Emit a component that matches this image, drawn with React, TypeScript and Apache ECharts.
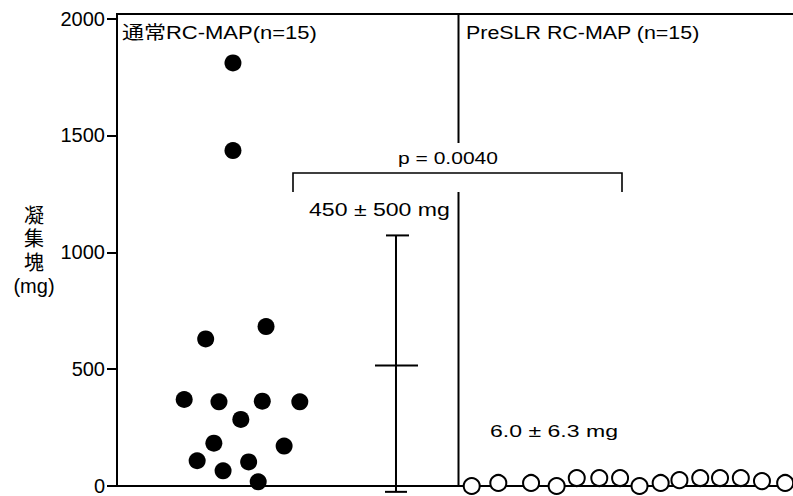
import React, { useEffect, useRef } from "react";
import * as echarts from "echarts";

// ---- data ----
const yTicks = [0, 500, 1000, 1500, 2000];
const groupLabels = ["通常RC-MAP(n=15)", "PreSLR RC-MAP (n=15)"];
// conventional RC-MAP: x jitter position (panel units), aggregate mass (mg)
const convX = [0.34, 0.34, 0.26, 0.437, 0.197, 0.299, 0.426, 0.536, 0.363, 0.284, 0.49, 0.235, 0.311, 0.386, 0.414];
const convY = [1810, 1435, 629, 682, 370, 360, 363, 360, 285, 183, 171, 108, 65, 103, 18];
// PreSLR RC-MAP
const preX = [1.04, 1.118, 1.214, 1.289, 1.348, 1.414, 1.475, 1.532, 1.594, 1.649, 1.71, 1.768, 1.829, 1.891, 1.959];
const preY = [0, 13, 13, 0, 34, 34, 34, 0, 13, 25, 34, 34, 34, 21, 13];
// mean / SD bar for conventional group
const errX = [0.818];
const errMean = [516];
const errLow = [-25];
const errHigh = [1072];
const pText = "p = 0.0040";
const convStat = "450 ± 500 mg";
const preStat = "6.0 ± 6.3 mg";
const yName = "凝\n集\n塊\n(mg)";

const FONT = '"Liberation Sans", "Noto Sans CJK JP", sans-serif';

function measure(text: string, size: number): number {
  const c = document.createElement("canvas").getContext("2d");
  if (!c) return text.length * size * 0.55;
  c.font = `${size}px ${FONT}`;
  return c.measureText(text).width;
}

function fitText(text: string, x: number, y: number, size: number, width: number, align: string) {
  const w = measure(text, size);
  return {
    type: "text",
    x,
    y,
    scaleX: w > 0 ? width / w : 1,
    style: {
      text,
      fontSize: size,
      fontFamily: FONT,
      fill: "#000",
      textAlign: align,
      textVerticalAlign: "middle",
    },
  };
}

export default function App() {
  const ref = useRef<HTMLDivElement>(null);
  useEffect(() => {
    if (!ref.current) return;
    const chart = echarts.init(ref.current, null, { renderer: "svg" });
    const line = (x1: number, y1: number, x2: number, y2: number, lw = 2) => ({
      type: "line",
      shape: { x1, y1, x2, y2 },
      style: { stroke: "#000", lineWidth: lw },
    });
    chart.setOption({
      animation: false,
      backgroundColor: "#fff",
      grid: { left: 117, right: 0, top: 18.5, bottom: 9, containLabel: false },
      xAxis: {
        type: "value",
        min: 0,
        max: 1.982,
        axisLine: { show: true, lineStyle: { color: "#000", width: 2 } },
        axisTick: { show: false },
        axisLabel: { show: false },
        splitLine: { show: false },
      },
      yAxis: {
        type: "value",
        min: 0,
        max: yTicks[yTicks.length - 1],
        interval: 500,
        axisLine: { show: true, lineStyle: { color: "#000", width: 2 } },
        axisTick: { show: true, length: 10, lineStyle: { color: "#000", width: 2 } },
        axisLabel: {
          margin: 12,
          color: "#000",
          fontSize: 20,
          fontFamily: FONT,
          formatter: (v: number) => String(v),
        },
        splitLine: { show: false },
      },
      graphic: [
        line(116, 14, 793, 14),
        line(117, 13, 117, 19),
        line(458.5, 14, 458.5, 143),
        line(458.5, 192, 458.5, 487),
        {
          type: "polyline",
          shape: { points: [[293, 192], [293, 173], [622, 173], [622, 192]] },
          style: { stroke: "#000", lineWidth: 1.6, fill: null },
        },
        fitText(groupLabels[0], 122, 33, 18, 195, "left"),
        fitText(groupLabels[1], 466, 33, 18, 234, "left"),
        fitText(pText, 448, 158, 17, 100, "center"),
        fitText(convStat, 309, 209, 19, 141, "left"),
        fitText(preStat, 490, 431, 17, 128, "left"),
        {
          type: "text",
          x: 34,
          y: 251,
          style: {
            text: yName,
            fontSize: 20,
            lineHeight: 23.5,
            fontFamily: FONT,
            fill: "#000",
            textAlign: "center",
            textVerticalAlign: "middle",
          },
        },
      ],
      series: [
        {
          type: "scatter",
          data: convX.map((x, i) => [x, convY[i]]),
          symbol: "circle",
          symbolSize: 17,
          itemStyle: { color: "#000", opacity: 1 },
          clip: false,
        },
        {
          type: "scatter",
          data: preX.map((x, i) => [x, preY[i]]),
          symbol: "circle",
          symbolSize: 16,
          itemStyle: { color: "#fff", borderColor: "#000", borderWidth: 2, opacity: 1 },
          clip: false,
          z: 3,
        },
        {
          type: "custom",
          data: errX.map((x, i) => [x, errMean[i], errLow[i], errHigh[i]]),
          renderItem: (_p: any, api: any) => {
            const x = api.value(0);
            const pm = api.coord([x, api.value(1)]);
            const pl = api.coord([x, api.value(2)]);
            const ph = api.coord([x, api.value(3)]);
            const st = { stroke: "#000", lineWidth: 2 };
            return {
              type: "group",
              children: [
                { type: "line", shape: { x1: pl[0], y1: pl[1], x2: ph[0], y2: ph[1] }, style: st },
                { type: "line", shape: { x1: ph[0] - 10, y1: ph[1], x2: ph[0] + 13, y2: ph[1] }, style: st },
                { type: "line", shape: { x1: pm[0] - 21, y1: pm[1], x2: pm[0] + 22, y2: pm[1] }, style: st },
                { type: "line", shape: { x1: pl[0] - 11, y1: pl[1], x2: pl[0] + 11, y2: pl[1] }, style: st },
              ],
            };
          },
          clip: false,
          z: 4,
        },
      ],
    });
    return () => chart.dispose();
  }, []);
  return (
    <div
      ref={ref}
      style={{ position: "fixed", left: 0, top: 0, width: 793, height: 496, background: "#fff" }}
    />
  );
}
